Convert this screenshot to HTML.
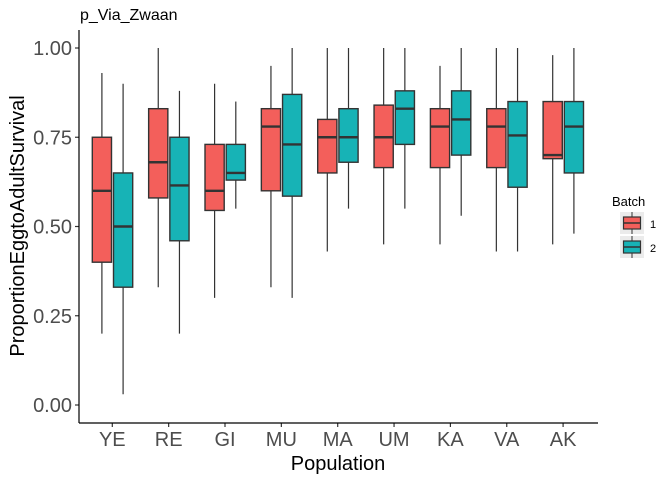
<!DOCTYPE html>
<html><head><meta charset="utf-8"><style>
body{margin:0;background:#fff}
svg text{font-family:"Liberation Sans",Arial,sans-serif}
</style></head><body>
<svg id="chart" width="672" height="480" viewBox="0 0 672 480" xmlns="http://www.w3.org/2000/svg">
<text x="80" y="20" font-size="16" fill="#000">p_Via_Zwaan</text>
<g id="yaxis"></g>
<g id="xaxis"></g>
<g id="boxes"></g>
<line x1="79" y1="30" x2="79" y2="423" stroke="#000" stroke-width="1.2"/>
<line x1="79" y1="423" x2="598" y2="423" stroke="#000" stroke-width="1.2"/>
<text transform="translate(24,226) rotate(-90)" text-anchor="middle" font-size="20">ProportionEggtoAdultSurvival</text>
<text x="338" y="470" text-anchor="middle" font-size="20">Population</text>
<g>
<text x="612" y="206" font-size="13">Batch</text>
<rect x="620" y="212" width="24" height="22" fill="#ebebeb"/>
<line x1="632" y1="212" x2="632" y2="234" stroke="#333" stroke-width="1"/>
<rect x="623.5" y="217" width="17" height="12" fill="#F35F5B" stroke="#333" stroke-width="1.2"/>
<line x1="623.5" y1="223" x2="640.5" y2="223" stroke="#333" stroke-width="1.5"/>
<text x="650" y="228" font-size="11">1</text>
<rect x="620" y="236" width="24" height="22" fill="#ebebeb"/>
<line x1="632" y1="236" x2="632" y2="258" stroke="#333" stroke-width="1"/>
<rect x="623.5" y="241" width="17" height="12" fill="#17B3B6" stroke="#333" stroke-width="1.2"/>
<line x1="623.5" y1="247" x2="640.5" y2="247" stroke="#333" stroke-width="1.5"/>
<text x="650" y="252" font-size="11">2</text>
</g>
</svg>
<script>
const categories=["YE","RE","GI","MU","MA","UM","KA","VA","AK"];
const yTicks=[0,0.25,0.5,0.75,1];
const yTickLabels=["0.00","0.25","0.50","0.75","1.00"];
// [min, q1, median, q3, max]
const batch1=[[0.20,0.40,0.60,0.75,0.93],[0.33,0.58,0.68,0.83,1.0],[0.30,0.545,0.60,0.73,0.90],[0.33,0.60,0.78,0.83,0.95],[0.43,0.65,0.75,0.80,1.0],[0.45,0.665,0.75,0.84,1.0],[0.45,0.665,0.78,0.83,0.95],[0.43,0.665,0.78,0.83,1.0],[0.45,0.69,0.70,0.85,0.98]];
const batch2=[[0.03,0.33,0.50,0.65,0.90],[0.20,0.46,0.615,0.75,0.88],[0.55,0.63,0.65,0.73,0.85],[0.30,0.585,0.73,0.87,1.0],[0.55,0.68,0.75,0.83,1.0],[0.55,0.73,0.83,0.88,1.0],[0.53,0.70,0.80,0.88,1.0],[0.43,0.61,0.755,0.85,1.0],[0.48,0.65,0.78,0.85,1.0]];
const NS="http://www.w3.org/2000/svg";
const y=v=>405-357*v;
const x=i=>112.3+56.35*i;
function mk(t,a,p){const e=document.createElementNS(NS,t);for(const k in a)e.setAttribute(k,a[k]);p.appendChild(e);return e;}
const ya=document.getElementById('yaxis'),xa=document.getElementById('xaxis'),bx=document.getElementById('boxes');
yTicks.forEach((v,i)=>{
 const l=mk('line',{x1:75,x2:79,y1:y(v),y2:y(v),stroke:'#333','stroke-width':1.2},ya);
 
 
 const t=mk('text',{x:72,y:y(v)+7,'text-anchor':'end','font-size':20,fill:'#4d4d4d'},ya);
 t.textContent=yTickLabels[i];
 
 
});
categories.forEach((c,i)=>{
 const l=mk('line',{x1:x(i),x2:x(i),y1:423,y2:427,stroke:'#333','stroke-width':1.2},xa);
 
 
 const t=mk('text',{x:x(i),y:446,'text-anchor':'middle','font-size':20,fill:'#4d4d4d'},xa);
 t.textContent=c;
 
 
});
function box(d,x0,x1,col,name){
 const g=mk('g',{},bx);
 
 
 const cx=(x0+x1)/2;
 mk('line',{x1:cx,x2:cx,y1:y(d[4]),y2:y(d[0]),stroke:'#333','stroke-width':1.2},g);
 mk('rect',{x:x0,y:y(d[3]),width:x1-x0,height:y(d[1])-y(d[3]),fill:col,stroke:'#333','stroke-width':1.4},g);
 mk('line',{x1:x0,x2:x1,y1:y(d[2]),y2:y(d[2]),stroke:'#333','stroke-width':2.4},g);
}
categories.forEach((c,i)=>{
 box(batch1[i],x(i)-20,x(i)-0.8,'#F35F5B','box-'+c+'-batch1');
 box(batch2[i],x(i)+1.2,x(i)+20.4,'#17B3B6','box-'+c+'-batch2');
});
</script>
</body></html>
